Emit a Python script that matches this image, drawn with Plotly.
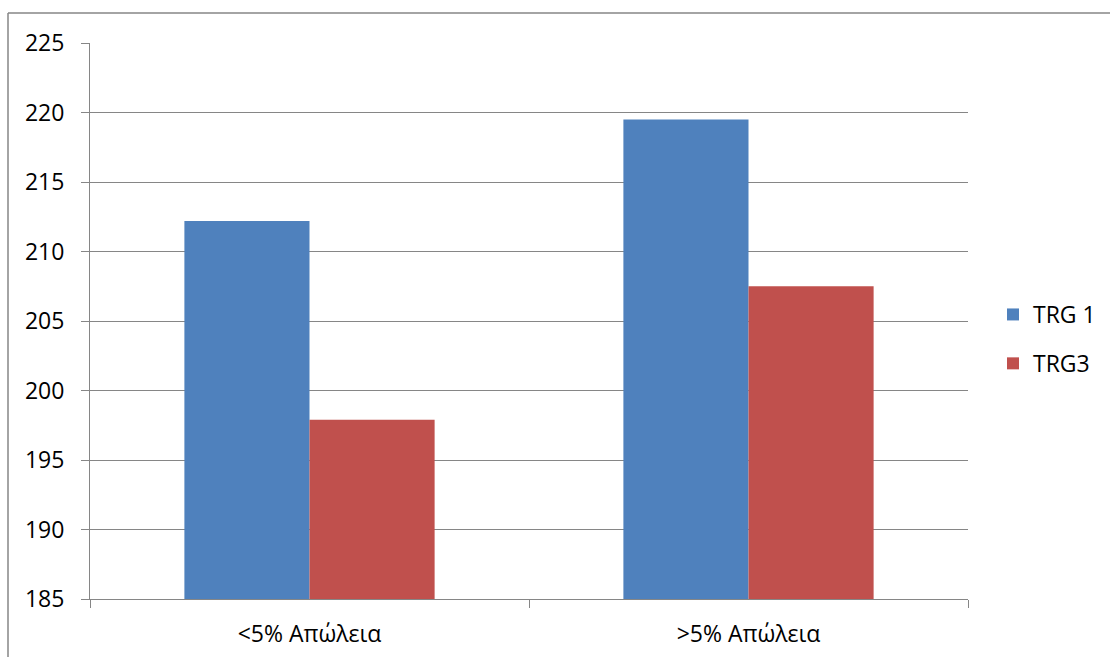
import plotly.graph_objects as go

# Category labels and series values
categories = ["<5% Απώλεια", ">5% Απώλεια"]
trg1_values = [212.2, 219.5]
trg3_values = [197.9, 207.5]
series_names = ["TRG 1", "TRG3"]
y_ticks = [185, 190, 195, 200, 205, 210, 215, 220, 225]

W, H = 1110, 657
L, R, T, B = 90, 968, 43, 599  # plot area edges in pixels

GRID = "#868686"
FONT = "Open Sans"
FSIZE = 23

fig = go.Figure()
fig.add_trace(go.Bar(x=categories, y=trg1_values, name=series_names[0],
                     marker=dict(color="#4F81BD", line=dict(width=0)),
                     legendgroup="a"))
fig.add_trace(go.Bar(x=categories, y=trg3_values, name=series_names[1],
                     marker=dict(color="#C0504D", line=dict(width=0)),
                     legendgroup="b"))

pw = R - L
ph = B - T


def px_x(x):
    return (x - L) / pw


def px_y(y):
    return (B - y) / ph


fig.update_layout(
    width=W, height=H,
    margin=dict(l=L, r=W - R, t=T, b=H - B, pad=0, autoexpand=False),
    paper_bgcolor="white", plot_bgcolor="white",
    barmode="group", bargap=0.43, bargroupgap=0,
    font=dict(family=FONT, size=FSIZE, color="black"),
    showlegend=True,
    legend=dict(x=px_x(993), xanchor="left", y=px_y(339), yanchor="middle",
                font=dict(family=FONT, size=FSIZE, color="black"),
                tracegroupgap=16, bgcolor="rgba(0,0,0,0)"),
    xaxis=dict(showgrid=False, showline=True, linecolor=GRID, linewidth=1,
               ticks="outside", ticklen=8, tickcolor=GRID, tickwidth=1,
               tickson="boundaries", ticklabelstandoff=14, automargin=False,
               tickfont=dict(family=FONT, size=FSIZE, color="black")),
    yaxis=dict(range=[185, 225], tickvals=y_ticks, showgrid=True,
               gridcolor=GRID, gridwidth=1.2, showline=True, linecolor=GRID,
               linewidth=1, ticks="outside", ticklen=8, tickcolor=GRID,
               tickwidth=1, zeroline=False, ticklabelstandoff=12,
               automargin=False,
               tickfont=dict(family=FONT, size=FSIZE, color="black")),
)

# Chart frame (top and left edges)
fig.add_shape(type="line", xref="paper", yref="paper",
              x0=px_x(8), x1=px_x(W + 5), y0=px_y(13), y1=px_y(13),
              line=dict(color=GRID, width=1.5))
fig.add_shape(type="line", xref="paper", yref="paper",
              x0=px_x(8), x1=px_x(8), y0=px_y(13), y1=px_y(H + 5),
              line=dict(color=GRID, width=1.5))

fig.write_html("out.html")
